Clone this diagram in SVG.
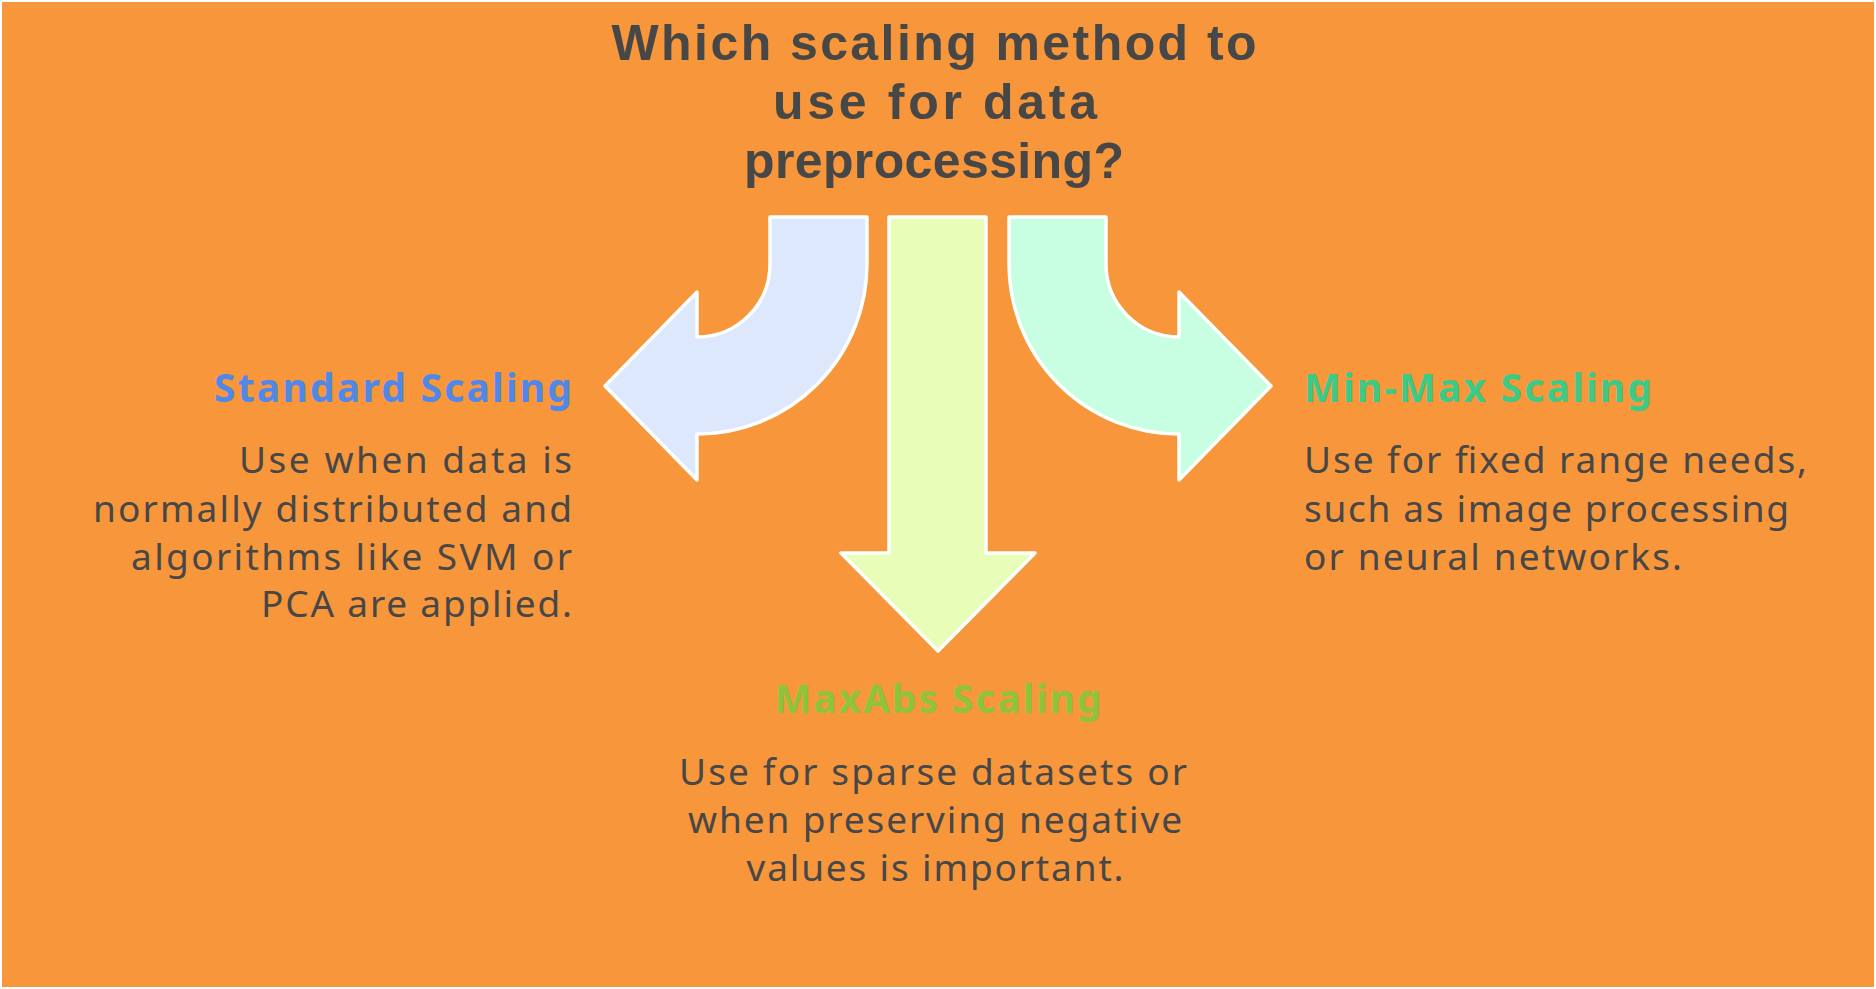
<svg xmlns="http://www.w3.org/2000/svg" width="1876" height="989" viewBox="0 0 1876 989">
<style>
.arrow{stroke:#ffffff;stroke-width:3.5;stroke-linejoin:round}
.title{font-family:"Liberation Sans","Noto Sans",sans-serif;font-weight:700;font-size:50px;fill:#474747}
.head{font-family:"Noto Sans","Liberation Sans",sans-serif;font-weight:700;font-size:39px}
.body{font-family:"Noto Sans","Liberation Sans",sans-serif;font-weight:400;font-size:37px;fill:#474747}
</style>
<rect x="0" y="0" width="1876" height="989" fill="#ffffff"/>
<rect x="2" y="2" width="1872" height="985" fill="#F7963A"/>
<g id="title">
<text class="title" x="934" y="60" text-anchor="middle" textLength="645">Which scaling method to</text>
<text class="title" x="935" y="119" text-anchor="middle" textLength="324">use for data</text>
<text class="title" x="934" y="178" text-anchor="middle" textLength="380">preprocessing?</text>
</g>
<g id="connectors">
<path id="arrow-left" class="arrow" fill="#DDE8FD" d="M770,217 L867,217 L867,264 A170,170 0 0 1 697,434 L697,480 L605,386 L697,292 L697,337 A73,73 0 0 0 770,264 Z"/>
<path id="arrow-middle" class="arrow" fill="#E8FDB8" d="M889,217 L986,217 L986,553 L1035,553 L938,651 L841,553 L889,553 Z"/>
<path id="arrow-right" class="arrow" fill="#C8FEE2" d="M1106,217 L1009,217 L1009,264 A170,170 0 0 0 1179,434 L1179,480 L1271,386 L1179,292 L1179,337 A73,73 0 0 1 1106,264 Z"/>
</g>
<g id="node-standard">
<text class="head" x="572" y="402" text-anchor="end" fill="#4F88E8" textLength="358">Standard Scaling</text>
<text class="body" x="572" y="473" text-anchor="end" textLength="333">Use when data is</text>
<text class="body" x="572" y="522" text-anchor="end" textLength="479">normally distributed and</text>
<text class="body" x="572" y="570" text-anchor="end" textLength="441">algorithms like SVM or</text>
<text class="body" x="572" y="617" text-anchor="end" textLength="311">PCA are applied.</text>
</g>
<g id="node-minmax">
<text class="head" x="1304" y="402" fill="#3DC986" textLength="348">Min-Max Scaling</text>
<text class="body" x="1304" y="473" textLength="503">Use for fixed range needs,</text>
<text class="body" x="1304" y="522" textLength="485">such as image processing</text>
<text class="body" x="1304" y="570" textLength="378">or neural networks.</text>
</g>
<g id="node-maxabs">
<text class="head" x="938" y="713" text-anchor="middle" fill="#8DC43C" textLength="327">MaxAbs Scaling</text>
<text class="body" x="933" y="785" text-anchor="middle" textLength="508">Use for sparse datasets or</text>
<text class="body" x="935" y="833" text-anchor="middle" textLength="494">when preserving negative</text>
<text class="body" x="935" y="881" text-anchor="middle" textLength="377">values is important.</text>
</g>
</svg>
